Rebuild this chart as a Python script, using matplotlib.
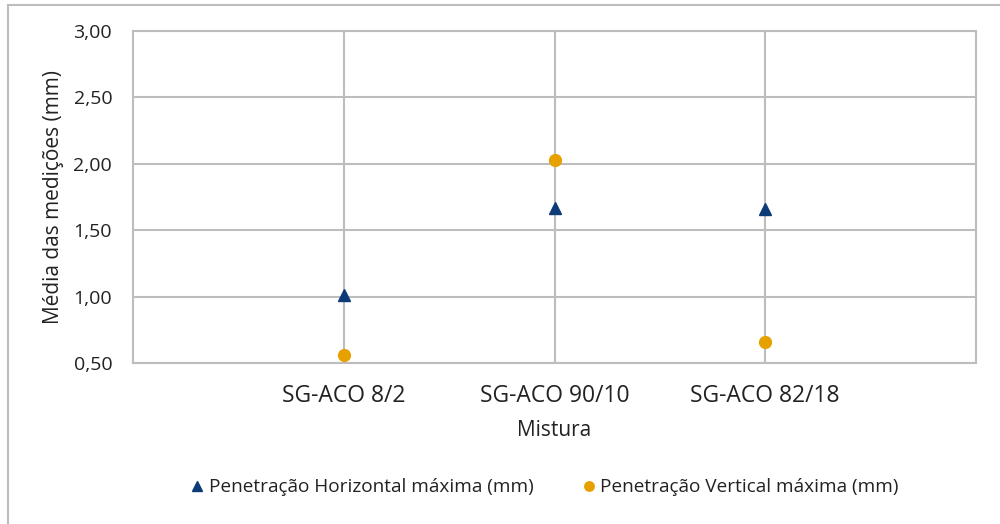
import matplotlib.pyplot as plt
from matplotlib.lines import Line2D

misturas = ["SG-ACO 8/2", "SG-ACO 90/10", "SG-ACO 82/18"]
pen_horizontal = [1.01, 1.67, 1.66]
pen_vertical = [0.56, 2.03, 0.66]
y_ticks = [0.5, 1.0, 1.5, 2.0, 2.5, 3.0]

plt.rcParams['font.family'] = ['Open Sans', 'DejaVu Sans']
grid_color = '#BDBDBD'
text_color = '#222222'

fig = plt.figure(figsize=(10, 5.24), dpi=100)
ax = fig.add_axes([0.133, 0.3073, 0.843, 0.6335])

x = [i + 1 for i in range(len(misturas))]

ax.plot(x, pen_horizontal, linestyle='none', marker='^', markersize=9,
        color='#0D3B78', label='Penetração Horizontal máxima (mm)', zorder=3)
ax.plot(x, pen_vertical, linestyle='none', marker='o', markersize=8.5,
        color='#E6A100', label='Penetração Vertical máxima (mm)', zorder=3)

ax.set_xlim(0, len(misturas) + 1)
ax.set_ylim(0.5, 3.0)
ax.set_xticks(x)
ax.set_xticklabels(misturas, fontsize=16.5, color=text_color)
ax.set_yticks(y_ticks)
ax.set_yticklabels(["{:.2f}".format(v).replace('.', ',') for v in y_ticks],
                   fontsize=14, color=text_color)
ax.tick_params(axis='both', length=0)
ax.tick_params(axis='y', pad=15)
ax.tick_params(axis='x', pad=15)

ax.grid(True, color=grid_color, linewidth=1.5)
ax.set_axisbelow(True)
for s in ax.spines.values():
    s.set_color(grid_color)
    s.set_linewidth(1.5)

ax.set_xlabel("Mistura", fontsize=15, color=text_color, labelpad=9)
ax.set_ylabel("Média das medições (mm)", fontsize=15, color=text_color, labelpad=7)

fig.legend(loc='center', bbox_to_anchor=(0.545, 0.07), ncol=2, frameon=False,
           fontsize=13.7, handlelength=0.6, handletextpad=0.3, columnspacing=2.6,
           markerscale=0.8, labelcolor=text_color)

# moldura da figura (apenas topo e esquerda visíveis)
fig.add_artist(Line2D([0.008, 1.0], [0.990, 0.990], color=grid_color, linewidth=1.5))
fig.add_artist(Line2D([0.008, 0.008], [0.0, 0.990], color=grid_color, linewidth=1.5))

fig.savefig("out.png", dpi=100)
